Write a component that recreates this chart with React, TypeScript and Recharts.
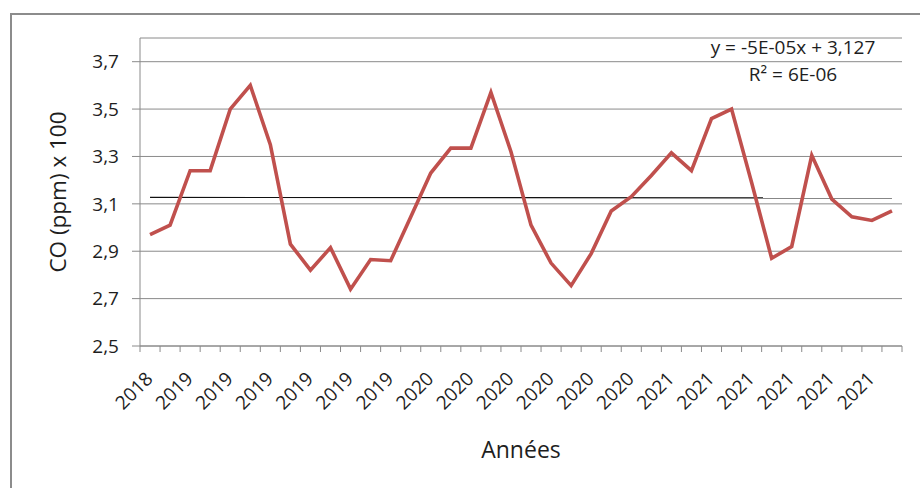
import { CartesianGrid, Label, Line, LineChart, XAxis, YAxis } from 'recharts';

// one reading per month, Nov 2018 -> Dec 2021
const monthYears = [
  '2018', '2018',
  '2019', '2019', '2019', '2019', '2019', '2019', '2019', '2019', '2019', '2019', '2019', '2019',
  '2020', '2020', '2020', '2020', '2020', '2020', '2020', '2020', '2020', '2020', '2020', '2020',
  '2021', '2021', '2021', '2021', '2021', '2021', '2021', '2021', '2021', '2021', '2021', '2021',
];

const coValues = [
  2.97, 3.01, 3.24, 3.24, 3.5, 3.6, 3.35, 2.93, 2.82, 2.915, 2.74, 2.865, 2.86,
  3.045, 3.23, 3.335, 3.335, 3.57, 3.32, 3.01, 2.85, 2.755, 2.89, 3.07, 3.13,
  3.22, 3.315, 3.24, 3.46, 3.5, 3.19, 2.87, 2.92, 3.305, 3.12, 3.045, 3.03, 3.07,
];

const yTicks = [2.5, 2.7, 2.9, 3.1, 3.3, 3.5, 3.7];

// linear trend shown on the chart
const trendSlope = -0.00005;
const trendIntercept = 3.127;
const trendLabel = 'y = -5E-05x + 3,127';
const r2Label = 'R² = 6E-06';

// trend drawn between the first and last month only
const data = coValues.map((v, i) => {
  const endPoint = i === 0 || i === coValues.length - 1;
  return {
    idx: i + 1,
    year: monthYears[i],
    co: v,
    trend: endPoint ? trendIntercept + trendSlope * (i + 1) : null,
  };
});

const FONT = '"Open Sans", "Noto Sans", sans-serif';
const TEXT = '#1e1e1e';
const GRID = '#8a8a8a';

function YearTick(props: any) {
  const { x, y, payload, index } = props;
  const half = payload.offset || 10;
  const i = payload.value as number;
  const last = index === data.length - 1;
  return (
    <g>
      <line x1={x - half} x2={x - half} y1={y} y2={y + 6} stroke={GRID} />
      {last && <line x1={x + half} x2={x + half} y1={y} y2={y + 6} stroke={GRID} />}
      {i % 2 === 1 && (
        <text
          transform={`translate(${x + 4},${y + 34}) rotate(-45)`}
          textAnchor="end"
          fontSize={19}
          fontFamily={FONT}
          fill={TEXT}
        >
          {monthYears[i - 1]}
        </text>
      )}
    </g>
  );
}

export default function App() {
  return (
    <div
      style={{
        position: 'fixed',
        left: 0,
        top: 0,
        width: 920,
        height: 488,
        overflow: 'hidden',
        background: '#fff',
        fontFamily: FONT,
      }}
    >
      <div
        style={{
          position: 'absolute',
          left: 10,
          top: 13,
          width: 1000,
          height: 1000,
          border: '2px solid #8c8c8c',
        }}
      />
      <div style={{ position: 'absolute', left: 0, top: 0 }}>
        <LineChart width={920} height={488} data={data} margin={{ top: 38, right: 18, bottom: 52, left: 40 }}>
          <CartesianGrid vertical={false} stroke={GRID} />
          <XAxis
            dataKey="idx"
            scale="band"
            interval={0}
            height={90}
            stroke={GRID}
            tickLine={false}
            tickSize={0}
            tickMargin={0}
            tick={<YearTick />}
          >
            <Label
              value="Années"
              position="bottom"
              offset={6}
              style={{ fontSize: 23, fontFamily: FONT, fill: TEXT }}
            />
          </XAxis>
          <YAxis
            width={100}
            domain={[2.5, 3.8]}
            ticks={yTicks}
            stroke={GRID}
            tickSize={8}
            tickMargin={13}
            tick={{ fontSize: 19, fontFamily: FONT, fill: TEXT }}
            tickFormatter={(v: number) => v.toFixed(1).replace('.', ',')}
          >
            <Label
              value="CO (ppm) x 100"
              angle={-90}
              position="insideLeft"
              offset={18}
              style={{ textAnchor: 'middle', fontSize: 22.5, fontFamily: FONT, fill: TEXT }}
            />
          </YAxis>
          <Line
            type="linear"
            dataKey="trend"
            stroke="#111"
            strokeWidth={1.2}
            dot={false}
            connectNulls
            isAnimationActive={false}
          />
          <Line
            type="linear"
            dataKey="co"
            stroke="#c0504d"
            strokeWidth={3.6}
            dot={false}
            isAnimationActive={false}
          />
        </LineChart>
      </div>
      <div
        style={{
          position: 'absolute',
          left: 690,
          top: 34,
          width: 206,
          textAlign: 'center',
          fontSize: 19,
          lineHeight: '27px',
          color: TEXT,
        }}
      >
        <div>{trendLabel}</div>
        <div>{r2Label}</div>
      </div>
    </div>
  );
}
